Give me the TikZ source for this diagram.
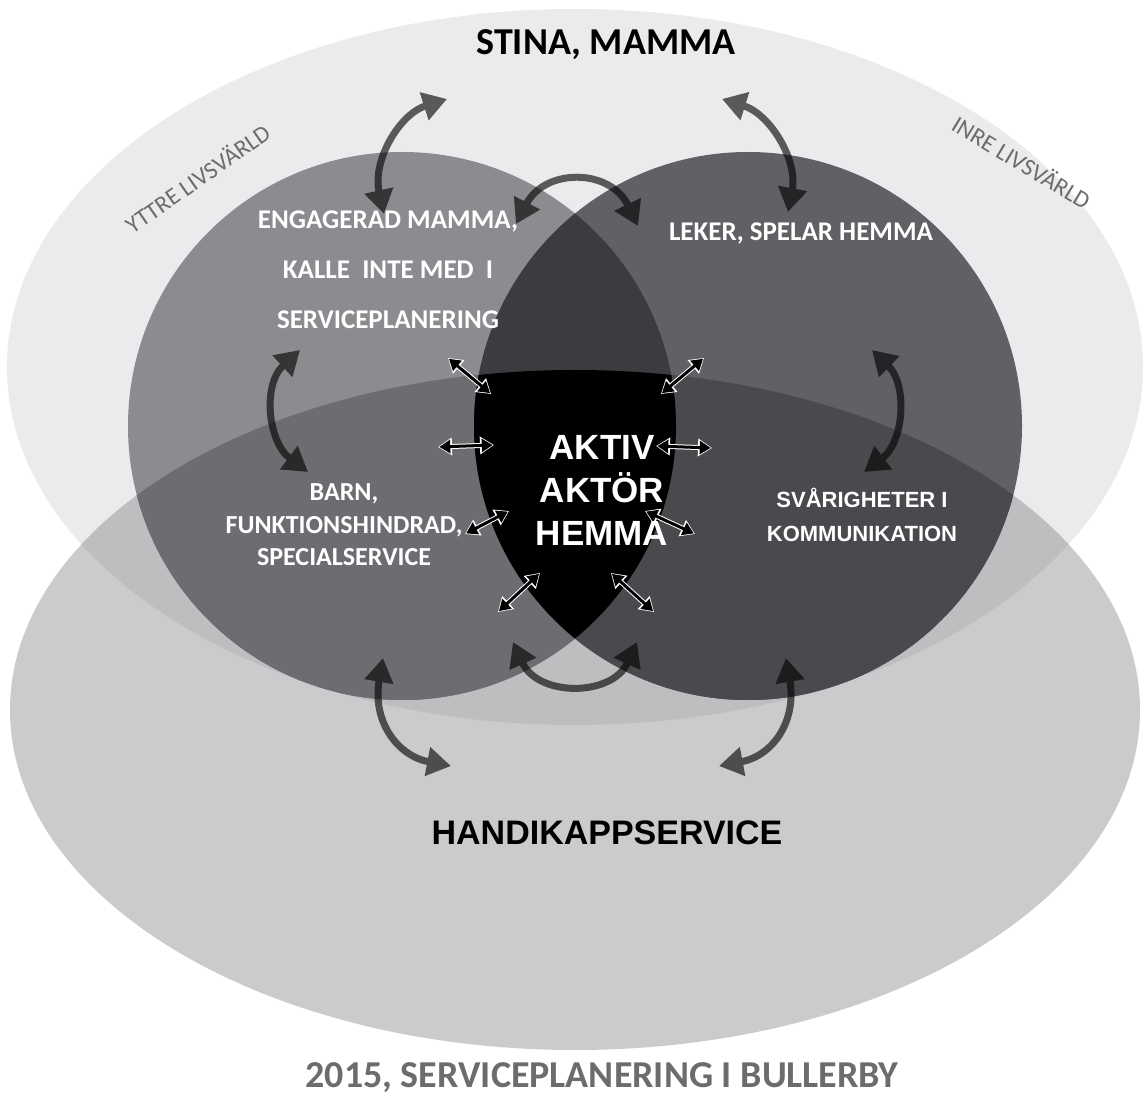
\documentclass[tikz,border=0pt]{standalone}
\usepackage{fontspec}
\setmainfont{Carlito}
\newfontfamily\arialfont{Liberation Sans}
\usetikzlibrary{arrows.meta}
\definecolor{topgray}{HTML}{EBEBED}
\definecolor{botgray}{HTML}{CBCBCD}
\definecolor{bothgray}{HTML}{BEBEC0}
\definecolor{leftT}{HTML}{8C8C90}
\definecolor{leftB}{HTML}{77777B}
\definecolor{leftTB}{HTML}{6D6D71}
\definecolor{rightT}{HTML}{606065}
\definecolor{rightB}{HTML}{545458}
\definecolor{rightTB}{HTML}{4A4A4E}
\definecolor{lensT}{HTML}{3C3C40}
\definecolor{labelgray}{HTML}{6C6C6C}

\tikzset{
  bigarrow/.style = {line width=7pt, black,
    {Triangle[length=24pt,width=28pt]}-{Triangle[length=24pt,width=28pt]}},
  smallarrow/.style = {line width=3pt, black, shorten <=1.3pt, shorten >=1.3pt,
    {Triangle[length=11pt,width=13pt]}-{Triangle[length=11pt,width=13pt]},
    preaction={draw=white, line width=5pt, shorten <=0pt, shorten >=0pt,
      {Triangle[length=14pt,width=17pt]}-{Triangle[length=14pt,width=17pt]}}},
  circletext/.style = {text=white, align=center, font=\bfseries\fontsize{27}{50}\selectfont},
  worldtext/.style = {text=labelgray, font=\fontsize{24}{28}\selectfont}
}

\begin{document}
\begin{tikzpicture}[x=1pt, y=-1pt]
  \useasboundingbox (0,0) rectangle (1144,1099);
  \fill[white] (0,0) rectangle (1144,1099);

  % the two life worlds
  \fill[topgray] (575,367) ellipse [x radius=568pt, y radius=358pt];
  \fill[botgray] (575,710) ellipse [x radius=565pt, y radius=340pt];
  \begin{scope}
    \clip (575,367) ellipse [x radius=568pt, y radius=358pt];
    \fill[bothgray] (575,710) ellipse [x radius=565pt, y radius=340pt];
  \end{scope}

  % left circle
  \fill[leftT] (402,426) circle [radius=274pt];
  \begin{scope}
    \clip (575,710) ellipse [x radius=565pt, y radius=340pt];
    \fill[leftB] (402,426) circle [radius=274pt];
    \clip (575,367) ellipse [x radius=568pt, y radius=358pt];
    \fill[leftTB] (402,426) circle [radius=274pt];
  \end{scope}

  % right circle
  \fill[rightT] (748,426) circle [radius=274pt];
  \begin{scope}
    \clip (575,710) ellipse [x radius=565pt, y radius=340pt];
    \fill[rightB] (748,426) circle [radius=274pt];
    \clip (575,367) ellipse [x radius=568pt, y radius=358pt];
    \fill[rightTB] (748,426) circle [radius=274pt];
  \end{scope}

  % the lens
  \begin{scope}
    \clip (402,426) circle [radius=274pt];
    \fill[lensT] (748,426) circle [radius=274pt];
    \clip (575,710) ellipse [x radius=565pt, y radius=340pt];
    \fill[black] (748,426) circle [radius=274pt];
  \end{scope}

  % ends of the big arrows
  \coordinate (tl1) at (384,214);  \coordinate (tl2) at (447,99);
  \coordinate (tr1) at (788,212);  \coordinate (tr2) at (722,99);
  \coordinate (tm1) at (516,224);  \coordinate (tm2) at (638,226);
  \coordinate (ls1) at (300,350);  \coordinate (ls2) at (308,472);
  \coordinate (rs1) at (872,350);  \coordinate (rs2) at (864,472);
  \coordinate (bl1) at (383,658);  \coordinate (bl2) at (451,766);
  \coordinate (br1) at (786,658);  \coordinate (br2) at (719,766);
  \coordinate (bm1) at (513,642);  \coordinate (bm2) at (637,642);

  \begin{scope}[transparency group, opacity=.62]
    \draw[bigarrow] (tl1) .. controls (372,160) and (400,114) .. (tl2);
    \draw[bigarrow] (tr1) .. controls (798,160) and (770,114) .. (tr2);
    \draw[bigarrow] (tm1) .. controls (545,168) and (610,168) .. (tm2);
    \draw[bigarrow] (ls1) .. controls (262,385) and (268,442) .. (ls2);
    \draw[bigarrow] (rs1) .. controls (908,385) and (904,442) .. (rs2);
    \draw[bigarrow] (bl1) .. controls (372,722) and (398,756) .. (bl2);
    \draw[bigarrow] (br1) .. controls (797,722) and (772,756) .. (br2);
    \draw[bigarrow] (bm1) .. controls (538,697) and (612,697) .. (bm2);
  \end{scope}

  % small arrows round the centre
  \coordinate (sa1) at (448,358);  \coordinate (sb1) at (491,394);
  \coordinate (sa2) at (704,358);  \coordinate (sb2) at (661,394);
  \coordinate (sa3) at (438,447);  \coordinate (sb3) at (494,445);
  \coordinate (sa4) at (656,446);  \coordinate (sb4) at (712,448);
  \coordinate (sa5) at (465,534);  \coordinate (sb5) at (509,511);
  \coordinate (sa6) at (645,511);  \coordinate (sb6) at (695,534);
  \coordinate (sa7) at (498,612);  \coordinate (sb7) at (540,573);
  \coordinate (sa8) at (611,573);  \coordinate (sb8) at (654,612);
  \foreach \i in {1,...,8}
    \draw[smallarrow] (sa\i) -- (sb\i);

  % labels
  \node (stina) at (606,45) {\bfseries\fontsize{38}{40}\selectfont STINA, MAMMA};
  \node[worldtext, rotate=35] (yttre) at (197,178) {YTTRE LIVSVÄRLD};
  \node[worldtext, rotate=-31] (inre) at (1022,162) {INRE LIVSVÄRLD};
  \node[circletext] (mamma) at (388,270) {ENGAGERAD MAMMA,\\KALLE\ \ INTE MED\ \ I\\SERVICEPLANERING};
  \node[circletext] (leker) at (801,233) {LEKER,\ SPELAR HEMMA};
  \node[circletext, font=\bfseries\fontsize{26}{32.5}\selectfont] (barn) at (344,525)
    {BARN,\\FUNKTIONSHINDRAD,\\SPECIALSERVICE};
  \node[circletext, font=\arialfont\bfseries\fontsize{22}{34}\selectfont] (svar) at (862,515)
    {SVÅRIGHETER I\\KOMMUNIKATION};
  \node[circletext, font=\arialfont\bfseries\fontsize{35}{43}\selectfont] (aktor) at (602,490)
    {AKTIV\\AKTÖR\\HEMMA};
  \node (handi) at (607,833) {\arialfont\bfseries\fontsize{34}{36}\selectfont HANDIKAPPSERVICE};
  \node[text=labelgray] (year) at (602,1078)
    {\bfseries\fontsize{38}{40}\selectfont 2015, SERVICEPLANERING I BULLERBY};
\end{tikzpicture}
\end{document}
